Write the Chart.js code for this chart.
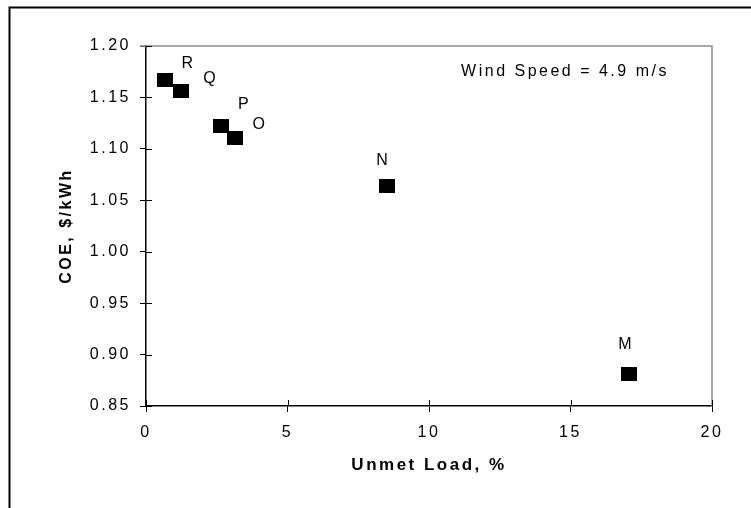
<!DOCTYPE html>
<html>
<head>
<meta charset="utf-8">
<script src="https://cdn.jsdelivr.net/npm/chart.js@4"></script>
<style>
  html, body { margin: 0; padding: 0; background: #fff; }
  #wrap { width: 751px; height: 508px; }
</style>
</head>
<body>
<div id="wrap"><canvas id="coeChart"></canvas></div>
<script>
const pointNames = ['M', 'N', 'O', 'P', 'Q', 'R'];
const unmetLoad = [17.05, 8.5, 3.15, 2.64, 1.24, 0.66];
const coe = [0.881, 1.064, 1.111, 1.122, 1.156, 1.167];
const xTicks = [0, 5, 10, 15, 20];
const yTicks = [0.85, 0.90, 0.95, 1.00, 1.05, 1.10, 1.15, 1.20];

// label offsets from marker centre (px)
const labelOffsets = [[-3, -30], [-4, -25], [24, -13], [23, -22], [29, -13], [23, -16]];

const FONT = "'Liberation Sans', Arial, sans-serif";

// black rectangle marker, a bit wider than tall
const marker = document.createElement('canvas');
marker.width = 16;
marker.height = 14;
const mctx = marker.getContext('2d');
mctx.fillStyle = '#000';
mctx.fillRect(0, 0, 16, 14);

const spacing = {
  id: 'spacing',
  beforeDraw(chart) {
    chart.ctx.letterSpacing = '2.5px';
  }
};

const decorations = {
  id: 'decorations',
  afterDraw(chart) {
    const ctx = chart.ctx;
    const a = chart.chartArea;
    const xs = chart.scales.x, ys = chart.scales.y;
    ctx.save();

    // plot frame, top and right in grey
    ctx.strokeStyle = '#8c8c8c';
    ctx.lineWidth = 1.5;
    ctx.beginPath();
    ctx.moveTo(a.left - 6, a.top);
    ctx.lineTo(a.right, a.top);
    ctx.lineTo(a.right, a.bottom);
    ctx.stroke();

    // inner half of the crossing tick marks
    ctx.strokeStyle = '#000';
    ctx.lineWidth = 1;
    ctx.beginPath();
    yTicks.forEach(v => {
      const y = Math.round(ys.getPixelForValue(v)) + 0.5;
      ctx.moveTo(a.left, y);
      ctx.lineTo(a.left + 6, y);
    });
    xTicks.forEach(v => {
      const x = Math.round(xs.getPixelForValue(v)) + 0.5;
      ctx.moveTo(x, a.bottom);
      ctx.lineTo(x, a.bottom - 6);
    });
    ctx.stroke();

    // point labels
    ctx.fillStyle = '#000';
    ctx.font = '16px ' + FONT;
    ctx.letterSpacing = '1px';
    ctx.textAlign = 'center';
    ctx.textBaseline = 'middle';
    const meta = chart.getDatasetMeta(0);
    meta.data.forEach((pt, i) => {
      ctx.fillText(pointNames[i], pt.x + labelOffsets[i][0], pt.y + labelOffsets[i][1]);
    });

    // annotation
    ctx.letterSpacing = '2.5px';
    ctx.fillText('Wind Speed = 4.9 m/s', 565, 72);

    // outer figure border (top and left only)
    ctx.letterSpacing = '0px';
    ctx.strokeStyle = '#000';
    ctx.lineWidth = 2;
    ctx.beginPath();
    ctx.moveTo(751, 7.5);
    ctx.lineTo(9.5, 7.5);
    ctx.lineTo(9.5, 508);
    ctx.stroke();
    ctx.restore();
  }
};

new Chart(document.getElementById('coeChart'), {
  type: 'scatter',
  data: {
    datasets: [{
      label: 'COE',
      data: unmetLoad.map((x, i) => ({ x: x, y: coe[i] })),
      pointStyle: marker,
      pointRadius: 8,
      pointHoverRadius: 8,
      backgroundColor: '#000',
      borderColor: '#000'
    }]
  },
  options: {
    responsive: true,
    maintainAspectRatio: false,
    animation: false,
    events: [],
    layout: { padding: { left: 0, top: 46, right: 39, bottom: 0 } },
    plugins: {
      legend: { display: false },
      tooltip: { enabled: false }
    },
    scales: {
      x: {
        type: 'linear',
        min: 0,
        max: 20,
        afterFit(scale) { scale.height = 102; },
        afterBuildTicks(scale) { scale.ticks = xTicks.map(v => ({ value: v })); },
        grid: { drawOnChartArea: false, color: '#000', tickLength: 6, tickWidth: 1 },
        border: { color: '#000', width: 1.5 },
        ticks: {
          color: '#000',
          padding: 11,
          font: { family: FONT, size: 16 },
          callback: v => String(v)
        },
        title: {
          display: true,
          text: 'Unmet Load, %',
          color: '#000',
          font: { family: FONT, size: 17, weight: 'bold' },
          padding: { top: 0, bottom: 32 }
        }
      },
      y: {
        type: 'linear',
        min: 0.85,
        max: 1.2,
        afterFit(scale) { scale.width = 146; },
        afterBuildTicks(scale) { scale.ticks = yTicks.map(v => ({ value: v })); },
        grid: { drawOnChartArea: false, color: '#000', tickLength: 6, tickWidth: 1 },
        border: { color: '#000', width: 1.5 },
        ticks: {
          color: '#000',
          padding: 9,
          font: { family: FONT, size: 16 },
          callback: v => v.toFixed(2)
        },
        title: {
          display: true,
          text: 'COE, $/kWh',
          color: '#000',
          font: { family: FONT, size: 16, weight: 'bold' },
          padding: { top: 57, bottom: 0 }
        }
      }
    }
  },
  plugins: [spacing, decorations]
});
</script>
</body>
</html>
